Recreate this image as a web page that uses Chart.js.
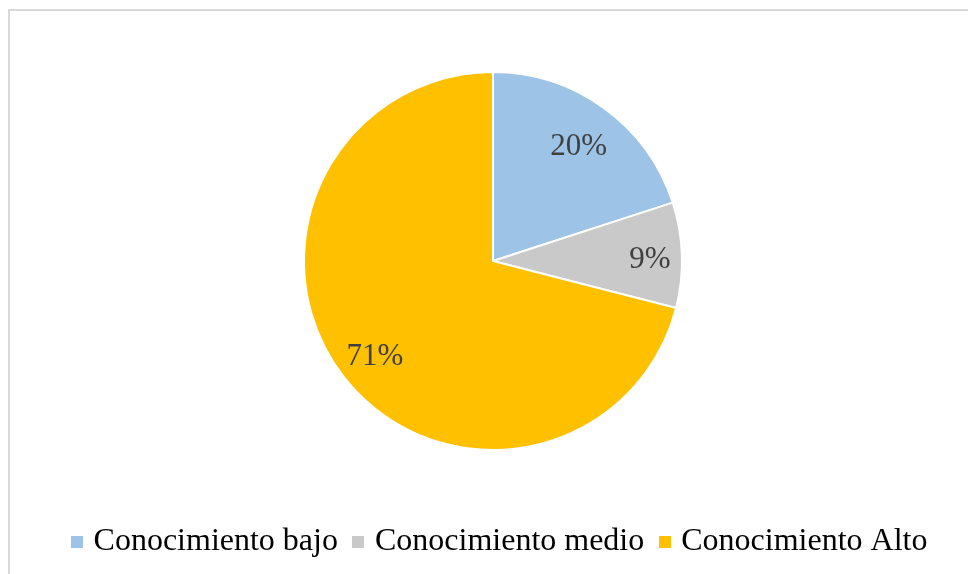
<!DOCTYPE html>
<html>
<head>
<meta charset="utf-8">
<script src="https://cdn.jsdelivr.net/npm/chart.js@4.4.1/dist/chart.umd.min.js"></script>
<style>
    html, body { margin: 0; padding: 0; background: #fff; overflow: hidden; }
    #frame {
        position: absolute; left: 8px; top: 9px; width: 1000px; height: 600px;
        border-top: 2px solid #d9d9d9; border-left: 2px solid #d9d9d9;
    }
    #wrap { position: absolute; left: 0; top: 0; width: 968px; height: 568px; }
</style>
</head>
<body>
<div id="frame"></div>
<div id="wrap"><canvas id="pieChart"></canvas></div>
<script>
document.addEventListener('DOMContentLoaded', (event) => {
    // Data
    const categories = ['Conocimiento bajo', 'Conocimiento medio', 'Conocimiento Alto'];
    const percentages = [20, 9, 71];
    const sliceColors = ['#9dc3e6', '#c9c9c9', '#ffc000'];

    // small square used as legend marker (drawn as an image so it can sit close to the text)
    function squareMarker(color) {
        const c = document.createElement('canvas');
        c.width = 12;
        c.height = 12;
        const g = c.getContext('2d');
        g.fillStyle = color;
        g.fillRect(0, 0, 12, 12);
        return c;
    }

    // draws the % labels inside each slice (Excel "best fit" style)
    const sliceLabels = {
        id: 'sliceLabels',
        afterDatasetsDraw(chart, args, opts) {
            const ctx = chart.ctx;
            const meta = chart.getDatasetMeta(0);
            ctx.save();
            ctx.font = '31px "Liberation Serif", "Times New Roman", serif';
            ctx.fillStyle = '#404040';
            ctx.textAlign = 'center';
            ctx.textBaseline = 'middle';
            meta.data.forEach((arc, i) => {
                const p = arc.getProps(['x', 'y', 'startAngle', 'endAngle', 'outerRadius'], true);
                const mid = (p.startAngle + p.endAngle) / 2;
                const r = p.outerRadius * opts.dist[i];
                ctx.fillText(percentages[i] + '%', p.x + Math.cos(mid) * r, p.y + Math.sin(mid) * r + 4);
            });
            ctx.restore();
        }
    };

    // nudge the legend a little to the right, like the original
    const legendShift = {
        id: 'legendShift',
        afterLayout(chart) {
            chart.legend.left += 9;
            chart.legend.right += 9;
        }
    };

    const ctx = document.getElementById('pieChart').getContext('2d');
    new Chart(ctx, {
        type: 'pie',
        data: {
            labels: categories,
            datasets: [{
                data: percentages,
                backgroundColor: sliceColors,
                borderColor: '#ffffff',
                borderWidth: 2,
                radius: 189
            }]
        },
        options: {
            responsive: true,
            maintainAspectRatio: false,
            animation: false,
            layout: {
                padding: { left: 18, right: 0, top: 16, bottom: 0 }
            },
            plugins: {
                tooltip: { enabled: false },
                sliceLabels: { dist: [0.77, 0.83, 0.79] },
                legend: {
                    position: 'bottom',
                    labels: {
                        usePointStyle: true,
                        pointStyleWidth: 1,
                        boxHeight: 12,
                        padding: 20,
                        color: '#000000',
                        font: {
                            family: '"Liberation Serif", "Times New Roman", serif',
                            size: 32
                        },
                        generateLabels(chart) {
                            const items = Chart.overrides.pie.plugins.legend.labels.generateLabels(chart);
                            return items.map((item, i) => ({ ...item, lineWidth: 0, pointStyle: squareMarker(sliceColors[i]) }));
                        }
                    }
                }
            }
        },
        plugins: [sliceLabels, legendShift]
    });
});
</script>
</body>
</html>
